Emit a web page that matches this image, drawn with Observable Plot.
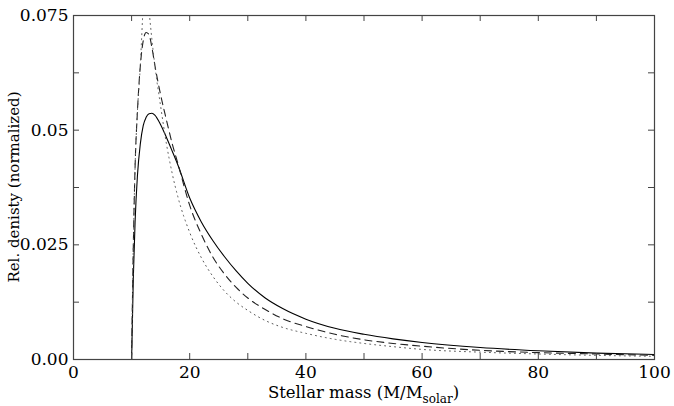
<!DOCTYPE html>
<html>
<head>
<meta charset="utf-8">
<script src="https://cdn.jsdelivr.net/npm/d3@7"></script>
<script src="https://cdn.jsdelivr.net/npm/@observablehq/plot@0.6"></script>
<style>
  html, body { margin: 0; padding: 0; background: #fff; }
  svg { display: block; }
  svg text { font-family: "DejaVu Serif", serif !important; }
</style>
</head>
<body>
<div id="chart"></div>
<script>
// Stellar mass grid (M/Msolar)
const mass = [10, 10.3, 10.6, 11, 11.5, 12, 12.5, 13, 13.5, 14, 15, 16, 17, 18, 20, 22, 24, 26, 28, 30, 33, 36, 40, 45, 50, 55, 60, 70, 80, 90, 100];
// Solid curve
const solidVals = [0, 0.018, 0.030, 0.040, 0.047, 0.0510, 0.0528, 0.0536, 0.0537, 0.0533, 0.0512, 0.0484, 0.0454, 0.0423, 0.0352, 0.0300, 0.0259, 0.0224, 0.0193, 0.0166, 0.0134, 0.0111, 0.0088, 0.0068, 0.0055, 0.0045, 0.0037, 0.0026, 0.0019, 0.0014, 0.0011];
// Dashed curve
const dashedVals = [0, 0.025, 0.042, 0.054, 0.064, 0.0695, 0.0713, 0.0708, 0.0680, 0.0642, 0.0577, 0.0522, 0.0470, 0.0426, 0.0336, 0.0273, 0.0223, 0.0186, 0.0157, 0.0134, 0.0109, 0.0089, 0.0072, 0.0055, 0.0043, 0.0035, 0.0029, 0.0020, 0.0015, 0.0012, 0.0009];
// Dotted curve (peak rises above the top of the frame)
const dottedVals = [0, 0.025, 0.042, 0.054, 0.064, 0.077, 0.084, 0.0762, 0.0697, 0.0641, 0.0552, 0.0470, 0.0405, 0.0353, 0.0277, 0.0222, 0.0181, 0.0149, 0.0125, 0.0107, 0.0085, 0.0070, 0.0057, 0.0044, 0.0035, 0.0028, 0.0022, 0.0016, 0.0012, 0.0009, 0.0007];

const xTicks = [0, 20, 40, 60, 80, 100];
const xMinorTicks = [0, 10, 20, 30, 40, 50, 60, 70, 80, 90, 100];
const yTicks = [0, 0.025, 0.05, 0.075];
const yTickLabels = ["0.00", "0.025", "0.05", "0.075"];
const yMinorTicks = [0, 0.0125, 0.025, 0.0375, 0.05, 0.0625, 0.075];

const rows = (vals) => mass.map((m, i) => ({m, v: vals[i]}));

const W = 674, H = 406;
const mt = 15, mb = 47, ml = 73, mr = 20;
const innerH = H - mt - mb, innerW = W - ml - mr;
const tick = 6;

const plot = Plot.plot({
  width: W,
  height: H,
  marginTop: mt,
  marginBottom: mb,
  marginLeft: ml,
  marginRight: mr,
  style: {fontSize: "17px", color: "#000", background: "#fff"},
  x: {domain: [0, 100], label: null},
  y: {domain: [0, 0.075], label: null},
  marks: [
    Plot.line(rows(solidVals), {x: "m", y: "v", stroke: "#000", strokeWidth: 1.1, curve: "monotone-x", clip: true}),
    Plot.line(rows(dashedVals), {x: "m", y: "v", stroke: "#222", strokeWidth: 1.1, strokeDasharray: "7,5", curve: "monotone-x", clip: true}),
    Plot.line(rows(dottedVals), {x: "m", y: "v", stroke: "#555", strokeWidth: 1, strokeDasharray: "1,4", curve: "monotone-x", clip: true}),
    // inward ticks on all four sides
    Plot.tickX(xMinorTicks, {x: d => d, insetTop: innerH - tick, stroke: "#444"}),
    Plot.tickX(xMinorTicks, {x: d => d, insetBottom: innerH - tick, stroke: "#444"}),
    Plot.tickY(yMinorTicks, {y: d => d, insetRight: innerW - tick, stroke: "#444"}),
    Plot.tickY(yMinorTicks, {y: d => d, insetLeft: innerW - tick, stroke: "#444"}),
    Plot.frame({stroke: "#444", strokeWidth: 1.2}),
    Plot.axisX({ticks: xTicks, tickSize: 0, tickPadding: 6, tickFormat: d => String(d), label: null, fill: "#000"}),
    Plot.axisY({ticks: yTicks, tickSize: 0, tickPadding: 5, tickFormat: d => yTickLabels[yTicks.indexOf(d)], label: null, fill: "#000"})
  ]
});

const svg = d3.select(plot);
// y axis title
svg.append("text")
  .attr("transform", `translate(19, ${mt + innerH / 2}) rotate(-90)`)
  .attr("text-anchor", "middle")
  .style("font-size", "15px")
  .attr("fill", "#000")
  .text("Rel. denisty (normalized)");
// x axis title with subscript
const xt = svg.append("text")
  .attr("x", ml + innerW / 2)
  .attr("y", 398)
  .attr("text-anchor", "middle")
  .style("font-size", "16.5px")
  .attr("fill", "#000");
xt.append("tspan").text("Stellar mass (M/M");
xt.append("tspan").style("font-size", "12px").attr("dy", 5).text("solar");
xt.append("tspan").attr("dy", -5).text(")");

document.getElementById("chart").appendChild(plot);
</script>
</body>
</html>
